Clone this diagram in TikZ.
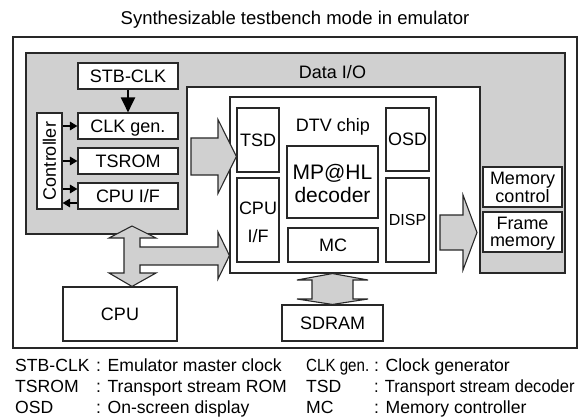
\documentclass[tikz,border=0pt]{standalone}
\usepackage{fontspec}
\setmainfont{Liberation Sans}
\usetikzlibrary{arrows.meta}
\definecolor{linec}{RGB}{40,40,40}
\definecolor{iofill}{RGB}{208,208,208}
\newcommand\fsz[2]{\fontsize{#1}{#2}\selectfont}

\begin{document}
\begin{tikzpicture}[x=1pt,y=-1pt,
  box/.style={draw=linec, fill=white, line width=1.1pt, inner sep=0pt, align=center, font=\fsz{18}{18}},
  one/.style={text height=12.9pt, text depth=0pt},
  frame/.style={draw=linec, line width=1.1pt, inner sep=0pt},
  fat/.style={draw=linec, fill=iofill, line width=1.1pt, line join=miter},
  ctl/.style={-{Triangle[length=7.5pt,width=8.5pt]}, line width=1.6pt, draw=black},
  feed/.style={-{Triangle[length=15pt,width=14pt]}, line width=2pt, draw=black},
  txt/.style={inner sep=0pt, font=\fsz{18}{18}, text height=12.9pt, text depth=0pt},
  legend/.style={inner sep=0pt, anchor=base west, font=\fsz{17.6}{18}},
]
\useasboundingbox (0,0) rectangle (578,417);

% title and emulator frame
\node[txt, font=\fsz{18.5}{18}] (title) at (295,18) {Synthesizable testbench mode in emulator};
\node[frame, minimum width=564, minimum height=311] (emu) at (295,192.5) {};

% Data I/O region
\draw[fat] (26,53) -- (565,53) -- (565,273) -- (480,273) -- (480,87)
  -- (187,87) -- (187,234) -- (26,234) -- cycle;
\node[txt] (dataio) at (332.5,72) {Data I/O};

% stimulus blocks
\node[box, one, minimum width=100, minimum height=26] (stb) at (128,76) {STB-CLK};
\node[box, one, minimum width=100, minimum height=26] (clk) at (128,126) {CLK gen.};
\node[box, one, minimum width=100, minimum height=26] (tsrom) at (128,161) {TSROM};
\node[box, one, minimum width=100, minimum height=26] (cpuif) at (128,196) {CPU I/F};
\node[box, one, rotate=90, minimum width=96, minimum height=25] (ctrl) at (49.5,161) {Controller};

\draw[feed] (stb.south) -- (clk.north);
\draw[ctl] (clk.west -| ctrl.south) -- (clk.west);
\draw[ctl] (tsrom.west -| ctrl.south) -- (tsrom.west);
\draw[ctl] ([yshift=7pt]cpuif.west -| ctrl.south) -- ([yshift=7pt]cpuif.west);
\draw[ctl] ([yshift=-7pt]cpuif.west) -- ([yshift=-7pt]cpuif.west -| ctrl.south);

% DTV chip
\node[box, minimum width=206, minimum height=176] (chip) at (333,185) {};
\node[txt] (chiplbl) at (333,124.7) {DTV chip};
\node[box, one, minimum width=42, minimum height=64] (tsd) at (258,140) {TSD};
\node[box, minimum width=42, minimum height=84, font=\fsz{18}{28}] (cpuifc) at (258,220) {\rule{0pt}{18pt}CPU\\I/F};
\node[box, minimum width=91, minimum height=72, font=\fsz{21}{23}] (mphl) at (332.5,182) {\rule{0pt}{19pt}MP@HL\\decoder};
\node[box, one, minimum width=90, minimum height=34] (mc) at (333,245) {MC};
\node[box, one, minimum width=43, minimum height=63] (osd) at (407.5,139.5) {OSD};
\node[box, minimum width=43, minimum height=84, font=\fsz{16}{16}, text height=11.5pt, text depth=0pt] (disp) at (407.5,220) {DISP};

% memory side
\node[box, minimum width=79, minimum height=40, font=\fsz{18}{17.5}] (memctl) at (522.5,187) {\rule{0pt}{13.5pt}Memory\\control};
\node[box, minimum width=79, minimum height=40, font=\fsz{18}{17.5}] (framemem) at (522.5,232) {\rule{0pt}{15.3pt}Frame\\memory};

% host side
\node[box, one, minimum width=114, minimum height=54] (cpu) at (120,314) {CPU};
\node[box, one, minimum width=101, minimum height=36] (sdram) at (332.5,323) {SDRAM};

% data paths
\draw[fat] (191,138) -- (218,138) -- (218,119.5) -- (tsd.west |- 0,156.5)
  -- (218,193.5) -- (218,175) -- (191,175) -- cycle;
\draw[fat] (440,215) -- (463,215) -- (463,195) -- (477,232.5)
  -- (463,270) -- (463,250) -- (440,250) -- cycle;
\coordinate (cputop) at (132,226);
\draw[fat] (cputop) -- (156,238) -- (140,238) -- (140,247) -- (218,247) -- (218,232)
  -- (chip.west |- 0,255.5) -- (218,279) -- (218,265) -- (140,265) -- (140,273)
  -- (156,273) -- (cpu.north -| cputop) -- (109,273) -- (124,273) -- (124,238)
  -- (109,238) -- cycle;
\draw[fat] (chip.south -| sdram.north) -- (368,280) -- (353,280) -- (353,299) -- (368,299)
  -- (sdram.north) -- (297,299) -- (312,299) -- (312,280) -- (297,280) -- cycle;

% legend
\node[legend] (k1) at (15,371) {STB-CLK};
\node[legend] (v1) at (96,371) {: Emulator master clock};
\node[legend] (k2) at (15,392.3) {TSROM};
\node[legend] (v2) at (96,392.3) {: Transport stream ROM};
\node[legend] (k3) at (15,413.6) {OSD};
\node[legend] (v3) at (96,413.6) {: On-screen display};
\node[legend, xscale=0.86] (k4) at (306,371) {CLK gen.};
\node[legend] (v4) at (374,371) {: Clock generator};
\node[legend] (k5) at (306,392.3) {TSD};
\node[legend, xscale=0.94] (v5) at (374,392.3) {: Transport stream decoder};
\node[legend] (k6) at (306,413.6) {MC};
\node[legend] (v6) at (374,413.6) {: Memory controller};
\end{tikzpicture}
\end{document}
